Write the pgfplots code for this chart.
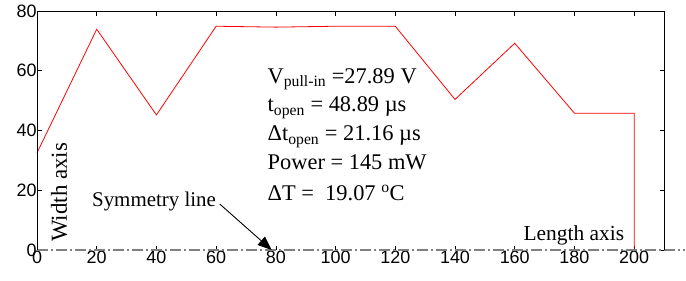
\documentclass[border=0pt]{standalone}
\usepackage{fontspec}
\setmainfont{Liberation Serif}
\setsansfont{Liberation Sans}
\usepackage{pgfplots}
\pgfplotsset{compat=1.18}
\usetikzlibrary{arrows.meta}
\begin{document}
\begin{tikzpicture}
\begin{axis}[
  scale only axis, width=627bp, height=239bp,
  xmin=0, xmax=210, ymin=0, ymax=80,
  xtick={0,20,...,200}, ytick={0,20,...,80},
  xticklabels={0,20,40,60,80,100,120,140,160,180,200},
  yticklabels={0,20,40,60,80},
  tick align=inside, major tick length=4.5bp,
  tick style={black, line width=0.6pt},
  axis line style={draw=none},
  tick label style={font=\sffamily\fontsize{18}{19}\selectfont, inner sep=1bp},
  xticklabel style={yshift=-0.2bp},
  yticklabel style={xshift=0.7bp},
  clip=false,
]
\addplot[red, line width=0.8pt] coordinates {
(0,32.5) (20,73.9) (40,45.2) (60,74.9) (80,74.6) (100,74.9) (120,74.9) (140,50.4) (160,69.2) (180,45.8) (200,45.8) (200,0)};
\draw[gray, line width=1.8pt, dash pattern=on 11bp off 3bp on 2bp off 3bp] (axis cs:0,0) -- (axis cs:217,0);
\draw[black, line width=0.8pt] (rel axis cs:0,0) -- (rel axis cs:0,1) -- (rel axis cs:1,1) -- (rel axis cs:1,0);
\node[anchor=base west, rotate=90, inner sep=0pt, font=\fontsize{23}{25}\selectfont] at (axis cs:10,2.7) {Width axis};
\node[anchor=base west, inner sep=0pt, font=\fontsize{21}{23}\selectfont] at (axis cs:18.4,14.7) {Symmetry line};
\draw[-{Triangle[length=14bp,width=11bp]}, line width=0.9pt] (axis cs:61.2,15.4) -- (axis cs:78.6,0);
\node[anchor=base west, inner sep=0pt, font=\fontsize{21.5}{23}\selectfont] at (axis cs:162.9,3.1) {Length axis};
\begin{scope}[every node/.style={anchor=base west, inner sep=0pt, font=\fontsize{22.5}{24}\selectfont}]
\node at (axis cs:77.2,55.9) {V\textsubscript{pull-in} =27.89 V};
\node at (axis cs:77.2,46.2) {t\textsubscript{open} = 48.89 µs};
\node at (axis cs:77.2,36.5) {Δt\textsubscript{open} = 21.16 µs};
\node at (axis cs:77.2,26.8) {Power = 145 mW};
\node at (axis cs:77.2,16.7) {ΔT =~ 19.07 \textsuperscript{o}C};
\end{scope}
\end{axis}
\pgfresetboundingbox
\path ([shift={(-37bp,-31bp)}]current axis.south west) rectangle ([shift={(22bp,11bp)}]current axis.north east);
\end{tikzpicture}
\end{document}
